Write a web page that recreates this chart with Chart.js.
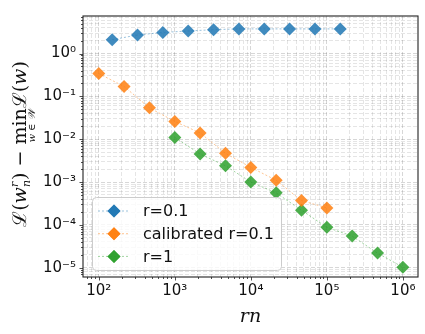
<!DOCTYPE html>
<html>
<head>
<meta charset="utf-8">
<script src="https://cdn.jsdelivr.net/npm/chart.js@4/dist/chart.umd.min.js"></script>
<style>
  html, body { margin: 0; padding: 0; background: #fff; }
  #wrap { width: 425px; height: 334px; }
</style>
</head>
<body>
<div id="wrap"><canvas id="lossChart" width="425" height="334"></canvas></div>
<script>
// values
const labels = ["r=0.1", "calibrated r=0.1", "r=1"];

const xR01 = [150, 323, 696, 1500, 3232, 6963, 15000, 32317, 69624, 150000];
const yR01 = [2.1, 2.7, 3.1, 3.35, 3.6, 3.75, 3.75, 3.75, 3.75, 3.75];

const xCal = [100, 215, 464, 1000, 2154, 4642, 10000, 21544, 46416, 100000];
const yCal = [0.34, 0.17, 0.054, 0.026, 0.014, 0.0047, 0.0022, 0.0011, 0.00037, 0.00025];

const xR1 = [1000, 2154, 4642, 10000, 21544, 46416, 100000, 215443, 464159, 1000000];
const yR1 = [0.011, 0.0045, 0.0024, 0.001, 0.00056, 0.00022, 0.000088, 0.000055, 0.000022, 0.0000103];

const xTickExps = [2, 3, 4, 5, 6];
const yTickExps = [0, -1, -2, -3, -4, -5];

const colors = ["#1f77b4", "#ff7f0e", "#2ca02c"];
const lineColors = ["rgba(31,119,180,0.45)", "rgba(255,127,14,0.45)", "rgba(44,160,44,0.45)"];
const pointColors = ["rgba(31,119,180,0.85)", "rgba(255,127,14,0.85)", "rgba(44,160,44,0.85)"];

const SUP = {"0":"⁰","1":"¹","2":"²","3":"³","4":"⁴","5":"⁵","6":"⁶","7":"⁷","8":"⁸","9":"⁹","-":"⁻"};
function pow10Label(e) {
    return "10" + String(e).split("").map(c => SUP[c]).join("");
}

function logTicks(min, max) {
    const out = [];
    for (let e = Math.floor(Math.log10(min)); e <= Math.ceil(Math.log10(max)); e++) {
        for (let m = 1; m <= 9; m++) {
            const v = m * Math.pow(10, e);
            if (v >= min && v <= max) out.push({ value: v, major: m === 1 });
        }
    }
    return out;
}

function pts(xs, ys) {
    return xs.map((x, i) => ({ x: x, y: ys[i] }));
}

const series = [pts(xR01, yR01), pts(xCal, yCal), pts(xR1, yR1)];

const isMajor = v => Math.abs(Math.log10(v) - Math.round(Math.log10(v))) < 1e-9;

const frameAndText = {
    id: "frameAndText",
    afterDraw(chart) {
        const ctx = chart.ctx;
        const a = chart.chartArea;
        ctx.save();

        // tick marks
        ctx.strokeStyle = "#222";
        ctx.lineWidth = 0.8;
        chart.scales.x.ticks.forEach(t => {
            const px = Math.round(chart.scales.x.getPixelForValue(t.value)) + 0.5;
            const len = isMajor(t.value) ? 3.5 : 2;
            ctx.beginPath(); ctx.moveTo(px, a.bottom); ctx.lineTo(px, a.bottom + len); ctx.stroke();
        });
        chart.scales.y.ticks.forEach(t => {
            const py = Math.round(chart.scales.y.getPixelForValue(t.value)) + 0.5;
            const len = isMajor(t.value) ? 3.5 : 2;
            ctx.beginPath(); ctx.moveTo(a.left, py); ctx.lineTo(a.left - len, py); ctx.stroke();
        });

        // frame
        ctx.strokeStyle = "#222";
        ctx.lineWidth = 1.1;
        ctx.strokeRect(a.left, a.top, a.right - a.left, a.bottom - a.top);

        // legend
        const lx = a.left + 9, ly = a.bottom - 80, lw = 189, lh = 73;
        ctx.beginPath();
        ctx.roundRect(lx + 0.5, ly + 0.5, lw, lh, 4);
        ctx.fillStyle = "rgba(255,255,255,0.8)";
        ctx.fill();
        ctx.strokeStyle = "#cccccc";
        ctx.lineWidth = 1;
        ctx.stroke();
        chart.data.datasets.forEach((ds, i) => {
            const ry = ly + 14 + i * 22.7;
            ctx.strokeStyle = ds.borderColor;
            ctx.lineWidth = 1;
            ctx.setLineDash([2, 2]);
            ctx.beginPath(); ctx.moveTo(lx + 6, ry); ctx.lineTo(lx + 38, ry); ctx.stroke();
            ctx.setLineDash([]);
            ctx.fillStyle = ds.pointBackgroundColor;
            Chart.helpers.drawPoint(ctx, { pointStyle: "rectRot", radius: 6.5, borderWidth: 0 }, lx + 22, ry);
            ctx.fill();
            ctx.fillStyle = "#111";
            ctx.font = "16px 'DejaVu Sans'";
            ctx.textBaseline = "middle";
            ctx.textAlign = "left";
            ctx.fillText(ds.label, lx + 51, ry + 1);
        });

        // x title
        ctx.fillStyle = "#111";
        ctx.font = "italic 19px 'DejaVu Serif'";
        ctx.textAlign = "center";
        ctx.textBaseline = "alphabetic";
        ctx.fillText("rn", (a.left + a.right) / 2, 322);

        // y title, drawn piece by piece along a rotated baseline
        const big = "19px 'DejaVu Serif'";
        const bigIt = "italic 19px 'DejaVu Serif'";
        const small = "italic 11px 'DejaVu Serif'";
        const parts = [
            { t: "ℒ(", f: big },
            { t: "w", f: bigIt },
            { t: "r", f: small, dy: -8, keep: true },
            { t: "n", f: small, dy: 4 },
            { t: ") − ", f: big },
            { t: "min", f: big, sub: "w ∈ 𝒲" },
            { t: "ℒ(", f: big },
            { t: "w", f: bigIt },
            { t: ")", f: big }
        ];
        let total = 0;
        parts.forEach(p => { ctx.font = p.f; p.w = ctx.measureText(p.t).width; if (!p.keep) total += p.w; });
        ctx.translate(26, 144);
        ctx.rotate(-Math.PI / 2);
        ctx.textAlign = "left";
        let cx = -total / 2;
        parts.forEach(p => {
            ctx.font = p.f;
            ctx.fillText(p.t, cx, p.dy || 0);
            if (p.sub) {
                ctx.font = "italic 10px 'DejaVu Serif'";
                const sw = ctx.measureText(p.sub).width;
                ctx.fillText(p.sub, cx + p.w / 2 - sw / 2, 9);
            }
            if (!p.keep) cx += p.w;
        });
        ctx.restore();
    }
};

const ctx = document.getElementById("lossChart").getContext("2d");
new Chart(ctx, {
    type: "line",
    data: {
        datasets: series.map((d, i) => ({
            label: labels[i],
            data: d,
            borderColor: lineColors[i],
            borderWidth: 1,
            borderDash: [2, 2],
            pointStyle: "rectRot",
            pointRadius: 6.5,
            pointHoverRadius: 6.5,
            pointBorderWidth: 0,
            pointBackgroundColor: pointColors[i],
            pointBorderColor: pointColors[i],
            tension: 0,
            fill: false
        }))
    },
    options: {
        responsive: false,
        animation: false,
        events: [],
        layout: { padding: { top: 6, right: 7, left: 0, bottom: 0 } },
        plugins: { legend: { display: false }, tooltip: { enabled: false } },
        scales: {
            x: {
                type: "logarithmic",
                min: 62,
                max: 1.58e6,
                afterBuildTicks: s => { s.ticks = logTicks(s.min, s.max); },
                afterFit: s => { s.height = 57; },
                grid: {
                    drawTicks: false,
                    color: c => isMajor(c.tick.value) ? "rgba(0,0,0,0.2)" : "rgba(0,0,0,0.13)",
                    lineWidth: 0.8
                },
                border: { display: false, dash: [4, 2] },
                ticks: {
                    autoSkip: false,
                    maxRotation: 0,
                    padding: 5,
                    color: "#111",
                    font: { family: "DejaVu Sans", size: 15 },
                    callback: v => {
                        const e = Math.round(Math.log10(v));
                        return isMajor(v) && xTickExps.includes(e) ? pow10Label(e) : "";
                    }
                }
            },
            y: {
                type: "logarithmic",
                min: 6.1e-6,
                max: 7.5,
                afterBuildTicks: s => { s.ticks = logTicks(s.min, s.max); },
                afterFit: s => { s.width = 83; },
                grid: {
                    drawTicks: false,
                    color: c => isMajor(c.tick.value) ? "rgba(0,0,0,0.2)" : "rgba(0,0,0,0.13)",
                    lineWidth: 0.8
                },
                border: { display: false, dash: [4, 2] },
                ticks: {
                    autoSkip: false,
                    padding: 7,
                    color: "#111",
                    font: { family: "DejaVu Sans", size: 15 },
                    callback: v => {
                        const e = Math.round(Math.log10(v));
                        return isMajor(v) && yTickExps.includes(e) ? pow10Label(e) : "";
                    }
                }
            }
        }
    },
    plugins: [frameAndText]
});
</script>
</body>
</html>
